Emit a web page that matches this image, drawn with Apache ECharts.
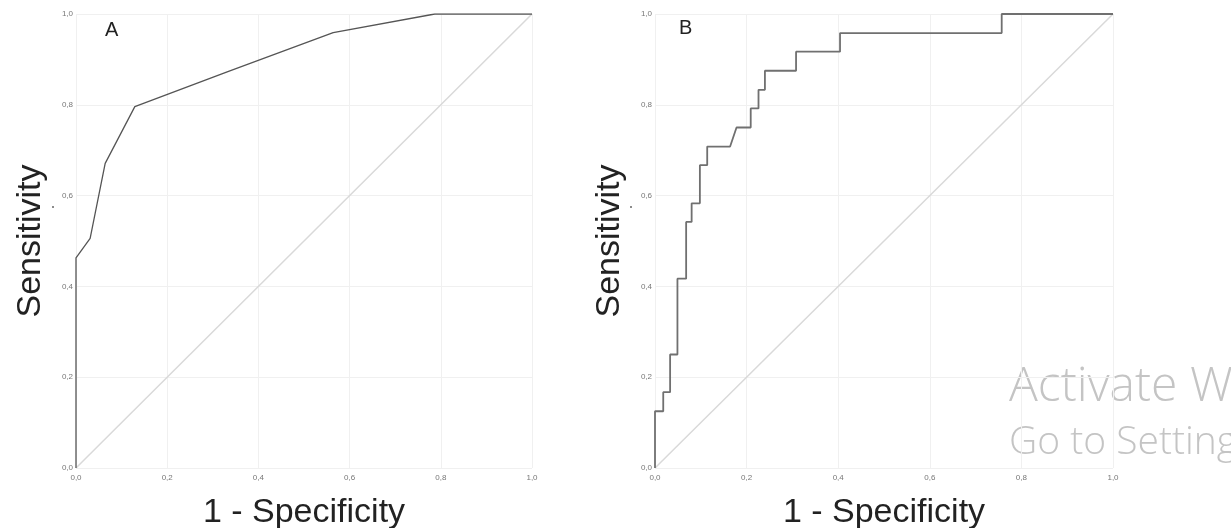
<!DOCTYPE html>
<html>
<head>
<meta charset="utf-8">
<script src="https://cdn.jsdelivr.net/npm/echarts@6/dist/echarts.min.js"></script>
<style>
  html, body { margin: 0; padding: 0; background: #fff; }
  #chart { width: 1231px; height: 528px; }
</style>
</head>
<body>
<div id="chart"></div>
<script>
// ROC curve A (1 - specificity, sensitivity)
const fprA = [0, 0, 0.031, 0.064, 0.129, 0.333, 0.564, 0.787, 1]
const tprA = [0, 0.463, 0.506, 0.671, 0.796, 0.873, 0.959, 1, 1]

// ROC curve B, stepped
const fprB = [0, 0, 0.018, 0.018, 0.033, 0.033, 0.049, 0.049, 0.068, 0.068, 0.080, 0.080,
  0.098, 0.098, 0.114, 0.114, 0.164, 0.178, 0.209, 0.209, 0.226, 0.226, 0.240, 0.240,
  0.308, 0.308, 0.404, 0.404, 0.757, 0.757, 1]
const tprB = [0, 0.125, 0.125, 0.167, 0.167, 0.25, 0.25, 0.417, 0.417, 0.542, 0.542, 0.583,
  0.583, 0.667, 0.667, 0.708, 0.708, 0.75, 0.75, 0.792, 0.792, 0.833, 0.833, 0.875,
  0.875, 0.917, 0.917, 0.958, 0.958, 1, 1]

const refLine = [0, 1]
const panelLabels = ['A', 'B']

const pairs = (xs, ys) => xs.map((x, i) => [x, ys[i]])
const fmt = v => v.toFixed(1).replace('.', ',')

const grids = [
  { left: 76, right: 699, top: 14, bottom: 60, outerBoundsMode: 'none' },
  { left: 655, right: 118, top: 14, bottom: 60, outerBoundsMode: 'none' }
]

const xAxis = grids.map((g, i) => ({
  type: 'value', gridIndex: i, min: 0, max: 1, interval: 0.2,
  name: '1 - Specificity', nameLocation: 'middle', nameGap: 28,
  nameTextStyle: { fontFamily: 'Liberation Sans', fontSize: 34, color: '#222' },
  axisLine: { show: false }, axisTick: { show: false },
  axisLabel: { formatter: fmt, fontSize: 8, color: '#777', margin: 6, fontFamily: 'Liberation Sans' },
  splitLine: { lineStyle: { color: '#f0f0f0', width: 1 } }
}))

const yAxis = grids.map((g, i) => ({
  type: 'value', gridIndex: i, min: 0, max: 1, interval: 0.2,
  name: 'Sensitivity', nameLocation: 'middle', nameGap: 28,
  nameTextStyle: { fontFamily: 'Liberation Sans', fontSize: 34, color: '#222' },
  axisLine: { show: false }, axisTick: { show: false },
  axisLabel: { formatter: fmt, fontSize: 8, color: '#777', margin: 3, fontFamily: 'Liberation Sans' },
  splitLine: { lineStyle: { color: '#f0f0f0', width: 1 } }
}))

const series = [
  { type: 'line', xAxisIndex: 0, yAxisIndex: 0, data: pairs(refLine, refLine), symbol: 'none',
    lineStyle: { color: '#d9d9d9', width: 1.5 }, silent: true },
  { type: 'line', xAxisIndex: 0, yAxisIndex: 0, data: pairs(fprA, tprA), symbol: 'none',
    lineStyle: { color: '#555', width: 1.3 } },
  { type: 'line', xAxisIndex: 1, yAxisIndex: 1, data: pairs(refLine, refLine), symbol: 'none',
    lineStyle: { color: '#d9d9d9', width: 1.5 }, silent: true },
  { type: 'line', xAxisIndex: 1, yAxisIndex: 1, data: pairs(fprB, tprB), symbol: 'none',
    lineStyle: { color: '#707070', width: 1.8 } }
]

const chart = echarts.init(document.getElementById('chart'))
chart.setOption({
  animation: false,
  grid: grids,
  xAxis: xAxis,
  yAxis: yAxis,
  series: series,
  graphic: [
    { type: 'text', left: 105, top: 20, style: { text: panelLabels[0], fontSize: 20, fontFamily: 'Liberation Sans', fill: '#222' } },
    { type: 'text', left: 679, top: 18, style: { text: panelLabels[1], fontSize: 20, fontFamily: 'Liberation Sans', fill: '#222' } },
    // stray dots next to the axis titles
    { type: 'circle', shape: { cx: 53, cy: 207, r: 1 }, style: { fill: '#666' } },
    { type: 'circle', shape: { cx: 631, cy: 207, r: 1 }, style: { fill: '#666' } },
    // screen watermark visible in the source image
    { type: 'text', left: 1009, top: 363, style: { text: 'Activate Windows', fontSize: 48, fontWeight: 300, fontFamily: 'Open Sans', fill: '#c4c4c4' } },
    { type: 'text', left: 1009, top: 423, style: { text: 'Go to Settings to activate Windows.', fontSize: 39, fontWeight: 300, fontFamily: 'Open Sans', fill: '#c4c4c4' } }
  ]
})
</script>
</body>
</html>
